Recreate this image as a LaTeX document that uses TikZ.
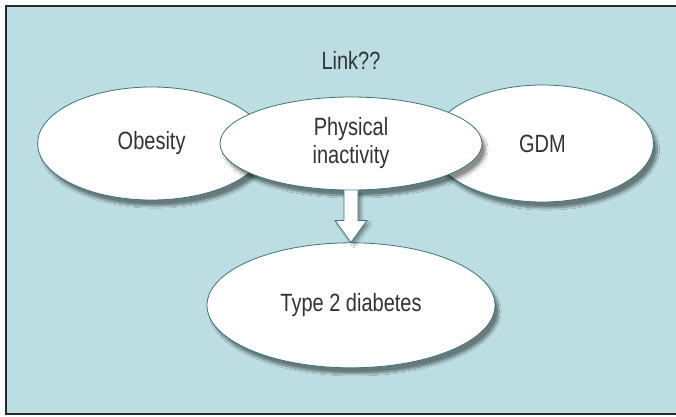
\documentclass[tikz,border=0pt]{standalone}
\usepackage{fontspec}
\setmainfont{Liberation Sans}[FakeStretch=0.8]
\usetikzlibrary{positioning,shapes.geometric,shadows.blur}
\definecolor{panelblue}{HTML}{BCDDE1}
\definecolor{rimteal}{HTML}{3A767C}
\definecolor{framegray}{HTML}{2A2A2A}
\begin{document}
\begin{tikzpicture}[x=1pt, y=-1pt,
    blob/.style={draw=rimteal, line width=0.8pt, fill=white, ellipse, inner sep=0pt,
      align=center, font=\fontsize{25}{28}\selectfont, text=black!80,
      blur shadow={shadow xshift=4pt, shadow yshift=-6pt, shadow blur steps=10, shadow opacity=45}},
    linklabel/.style={font=\fontsize{25}{28}\selectfont, text=black!80}]
  \useasboundingbox (0,0) rectangle (676,416);
  % panel, open on the right
  \fill[panelblue] (6,6) rectangle (676,414);
  \draw[framegray, line width=2.2pt] (676,6) -- (6,6) -- (6,414) -- (676,414);
  \coordinate (mid) at (351,143.5);
  \node[blob, minimum width=228pt, minimum height=113pt] (ob) [left=85pt of mid] {Obesity};
  \node[blob, minimum width=222pt, minimum height=117pt] (gdm) [right=80pt of mid] {GDM};
  \node[blob, minimum width=262pt, minimum height=93pt] (pa) at (mid) {Physical\\inactivity};
  \node[blob, minimum width=288pt, minimum height=125pt] (t2) [below=52pt of pa] {Type 2 diabetes};
  \node[linklabel] (link) [above=24pt of pa] {Link??};
  \draw[rimteal, fill=white, line width=0.8pt,
        blur shadow={shadow xshift=3pt, shadow yshift=-3pt, shadow blur steps=6, shadow opacity=35}]
    ([xshift=-7pt]pa.south) |- ([xshift=-16pt,yshift=22pt]t2.north) -- (t2.north)
    -- ([xshift=16pt,yshift=22pt]t2.north) -| ([xshift=7pt]pa.south);
\end{tikzpicture}
\end{document}
